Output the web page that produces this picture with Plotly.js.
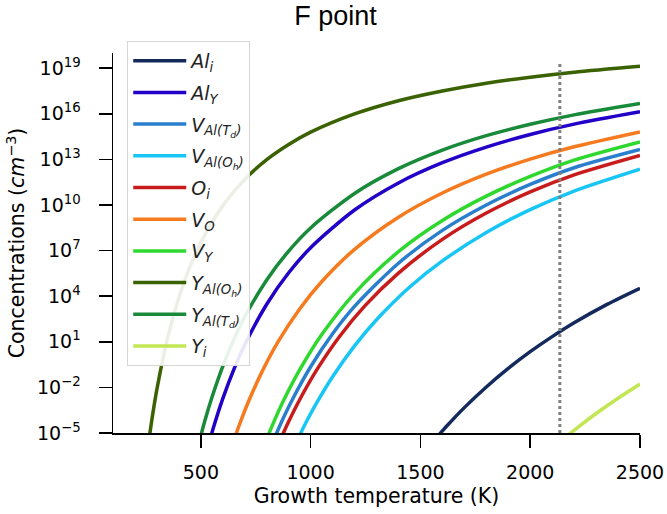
<!DOCTYPE html>
<html>
<head>
<meta charset="utf-8">
<script src="https://cdn.plot.ly/plotly-3.0.1.min.js"></script>
<style>html,body{margin:0;padding:0;background:#fff;}#chart{width:667px;height:514px;}</style>
</head>
<body>
<div id="chart"></div>
<script>
// Growth temperature (K) samples and log10 concentration (cm^-3)
const tAlI   = [1570, 1620, 1700, 1800, 1900, 2000, 2100, 2200, 2350, 2500];
const logAlI = [-5.36, -4.54, -3.33, -1.97, -0.75, 0.35, 1.34, 2.25, 3.46, 4.52];

const tAlY   = [535, 560, 600, 650, 700, 800, 900, 1000, 1200, 1400, 1600, 1800, 2000, 2200, 2500];
const logAlY = [-5.76, -4.52, -2.74, -0.83, 0.81, 3.47, 5.54, 7.19, 9.67, 11.45, 12.78, 13.81, 14.64, 15.32, 16.13];

const tVAlTd   = [830, 870, 920, 1000, 1100, 1200, 1400, 1600, 1800, 2000, 2200, 2500];
const logVAlTd = [-5.51, -4.19, -2.71, -0.64, 1.53, 3.33, 6.17, 8.33, 10.0, 11.35, 12.45, 13.65];

const tVAlOh   = [940, 980, 1030, 1100, 1200, 1300, 1450, 1600, 1800, 2000, 2200, 2500];
const logVAlOh = [-5.45, -4.28, -2.96, -1.30, 0.73, 2.45, 4.59, 6.32, 8.19, 9.70, 10.92, 12.36];

const tOI   = [860, 900, 950, 1030, 1130, 1250, 1400, 1600, 1800, 2000, 2200, 2500];
const logOI = [-5.52, -4.25, -2.81, -0.80, 1.32, 3.41, 5.52, 7.74, 9.47, 10.86, 11.98, 13.26];

const tVO   = [645, 680, 720, 780, 850, 950, 1050, 1200, 1400, 1600, 1800, 2000, 2200, 2500];
const logVO = [-5.71, -4.29, -2.83, -0.93, 0.96, 3.16, 4.95, 7.08, 9.20, 10.79, 12.03, 13.02, 13.83, 14.81];

const tVY   = [795, 830, 880, 950, 1050, 1200, 1400, 1600, 1800, 2000, 2200, 2500];
const logVY = [-5.57, -4.35, -2.77, -0.85, 1.46, 4.19, 6.93, 8.98, 10.58, 11.88, 12.95, 14.15];

const tYAlOh   = [260, 280, 300, 350, 400, 450, 500, 600, 700, 800, 900, 1000, 1200, 1400, 1600, 1800, 2000, 2200, 2500];
const logYAlOh = [-5.83, -3.84, -2.11, 1.34, 3.92, 5.93, 7.54, 9.96, 11.68, 12.98, 13.98, 14.79, 15.99, 16.86, 17.50, 18.01, 18.41, 18.74, 19.13];

const tYAlTd   = [490, 520, 550, 600, 650, 700, 800, 900, 1000, 1200, 1400, 1600, 1800, 2000, 2200, 2500];
const logYAlTd = [-5.72, -4.11, -2.68, -0.61, 1.14, 2.64, 5.07, 6.97, 8.49, 10.76, 12.39, 13.61, 14.56, 15.31, 15.93, 16.68];

const tYI   = [2170, 2220, 2300, 2400, 2500];
const logYI = [-5.17, -4.59, -3.72, -2.71, -1.78];

const seriesLabels = [
  '<i>Al</i><sub><i>i</i></sub>',
  '<i>Al</i><sub><i>Y</i></sub>',
  '<i>V</i><sub><i>Al(T<sub>d</sub>)</i></sub>',
  '<i>V</i><sub><i>Al(O<sub>h</sub>)</i></sub>',
  '<i>O</i><sub><i>i</i></sub>',
  '<i>V</i><sub><i>O</i></sub>',
  '<i>V</i><sub><i>Y</i></sub>',
  '<i>Y</i><sub><i>Al(O<sub>h</sub>)</i></sub>',
  '<i>Y</i><sub><i>Al(T<sub>d</sub>)</i></sub>',
  '<i>Y</i><sub><i>i</i></sub>'
];
const seriesColors = ['#142a5c', '#2200c8', '#2a7fcc', '#18c6f6', '#c81c1c', '#f67a1e', '#2ed82e', '#3a6200', '#188a3a', '#c2e654'];
const seriesT = [tAlI, tAlY, tVAlTd, tVAlOh, tOI, tVO, tVY, tYAlOh, tYAlTd, tYI];
const seriesLog = [logAlI, logAlY, logVAlTd, logVAlOh, logOI, logVO, logVY, logYAlOh, logYAlTd, logYI];

const markerT = 2135;          // vertical dotted reference temperature
const markerSpanLog = [-5, 19.3];

const yTickExp = [-5, -2, 1, 4, 7, 10, 13, 16, 19];
const xTickVals = [500, 1000, 1500, 2000, 2500];

const traces = seriesLabels.map((name, i) => ({
  type: 'scatter', mode: 'lines', name: name,
  x: seriesT[i], y: seriesLog[i].map(v => Math.pow(10, v)),
  line: {color: seriesColors[i], width: 3.5, shape: 'spline', smoothing: 0.8},
  legendgroup: 'g' + i
}));
traces.push({
  type: 'scatter', mode: 'lines', showlegend: false, hoverinfo: 'skip',
  x: [markerT, markerT], y: markerSpanLog.map(v => Math.pow(10, v)),
  line: {color: '#808080', width: 3, dash: 'dot'}
});

const tickFont = {family: 'DejaVu Sans', size: 19, color: '#000'};
const titleFont = {family: 'DejaVu Sans', size: 20.5, color: '#000'};
const layout = {
  width: 667, height: 514,
  margin: {l: 113, r: 27, t: 53, b: 81},
  paper_bgcolor: '#fff', plot_bgcolor: '#fff',
  title: {text: 'F point', font: {family: 'Liberation Sans', size: 27, color: '#000'},
          x: 0.503, xref: 'container', xanchor: 'center', y: 0.97, yref: 'container', yanchor: 'middle'},
  xaxis: {
    range: [100, 2500], tickvals: xTickVals, ticks: 'outside', ticklen: 13, tickwidth: 1.5, tickcolor: '#000',
    showline: true, linecolor: '#000', linewidth: 1.5, showgrid: false, zeroline: false,
    tickfont: tickFont, ticklabelstandoff: 9,
    title: {text: 'Growth temperature (K)', font: titleFont, standoff: 6}
  },
  yaxis: {
    type: 'log', range: [-5, 20],
    tickvals: yTickExp.map(e => Math.pow(10, e)),
    ticktext: yTickExp.map(e => '10<sup>' + (e < 0 ? '\u2212' + (-e) : e) + '</sup>'),
    ticks: 'outside', ticklen: 13, tickwidth: 1.5, tickcolor: '#000',
    showline: true, linecolor: '#000', linewidth: 1.5, showgrid: false, zeroline: false,
    tickfont: tickFont, ticklabelstandoff: 14,
    title: {text: 'Concentrations (<i>cm</i><sup>\u22123</sup>)', font: titleFont, standoff: 6}
  },
  legend: {
    x: 0.027, y: 1.032, xanchor: 'left', yanchor: 'top',
    bgcolor: 'rgba(255,255,255,0.9)', bordercolor: '#d6d6d6', borderwidth: 1,
    font: {family: 'DejaVu Sans', size: 19, color: '#222'},
    traceorder: 'grouped', tracegroupgap: 4, itemwidth: 53, maxheight: 450
  },
  showlegend: true
};

Plotly.newPlot('chart', traces, layout, {displayModeBar: false, staticPlot: true});
</script>
</body>
</html>
